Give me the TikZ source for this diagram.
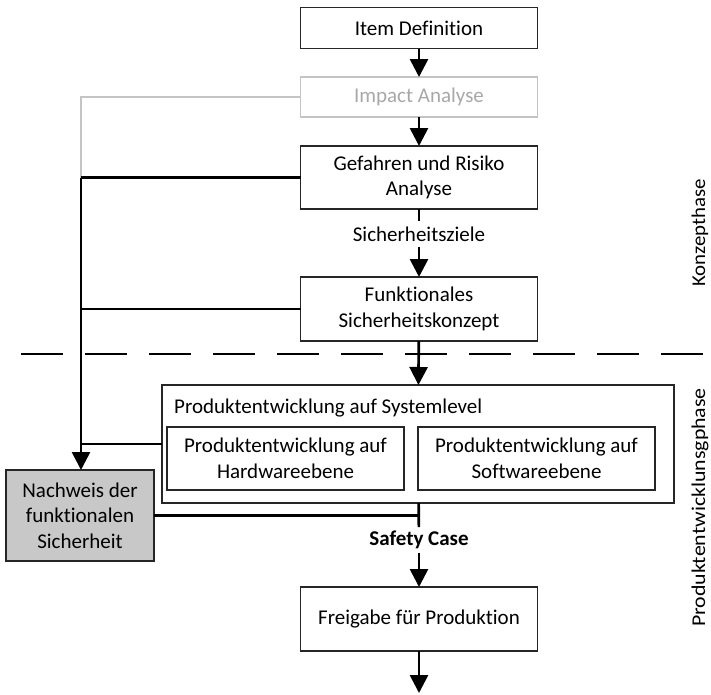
\documentclass[tikz,border=0pt]{standalone}
\usepackage{fontspec}
\setmainfont{Carlito}[Ligatures={NoCommon,NoRare,NoContextual}]
\usetikzlibrary{arrows.meta}
\definecolor{procfill}{HTML}{C8C8C8}
\definecolor{fadeline}{HTML}{C4C4C4}
\definecolor{fadetext}{HTML}{A8A8A8}
\newcommand{\boxfont}{\fontsize{21pt}{25.5pt}\selectfont}
\begin{document}
\begin{tikzpicture}[x=1pt,y=-1pt,
  box/.style={draw=black!85,line width=1.3pt,minimum width=237pt,align=center,
    inner sep=0pt,outer sep=0pt,font=\boxfont},
  conn/.style={line width=2.7pt},
  arr/.style={conn,-{Triangle[length=18pt,width=18pt]}},
  flow/.style={inner sep=0pt,outer sep=0pt,minimum height=26pt,font=\boxfont},
  phase/.style={inner sep=0pt,outer sep=0pt,rotate=90,anchor=base,font=\fontsize{19.5pt}{22pt}\selectfont}
]
\useasboundingbox (0,0) rectangle (711,694);

% main process column
\node[box,minimum height=41pt] (item) at (419,28) {Item Definition};
\node[box,draw=fadeline,text=fadetext,minimum height=40pt] (impact) at (419,97) {Impact Analyse};
\node[box,minimum height=63pt] (hara) at (419,177.5) {Gefahren und Risiko\\Analyse};
\node[flow] (goals) at (419,234) {Sicherheitsziele};
\node[box,minimum height=64pt] (fsc) at (419,309) {Funktionales\\Sicherheitskonzept};

% product development on system level with its two sub-levels
\node[box,minimum width=512pt,minimum height=118pt] (sys) at (418,444) {};
\node[anchor=west,inner sep=0pt,font=\boxfont] (syslabel) at (174,408) {Produktentwicklung auf Systemlevel};
\node[box,minimum height=63pt] (hw) at (285.5,458.5) {Produktentwicklung auf\\Hardwareebene};
\node[box,minimum height=63pt] (sw) at (536.5,458.5) {Produktentwicklung auf\\Softwareebene};

% verification of functional safety
\node[box,fill=procfill,minimum width=148pt,minimum height=91pt] (proof) at (80,515.5) {Nachweis der\\funktionalen\\Sicherheit};

\node[flow,font=\boxfont\bfseries] (case) at (419,540) {Safety Case};
\node[box,minimum height=64pt] (release) at (419,619) {Freigabe für Produktion};
\coordinate (out) at (419,693);

% phase separator and phase names
\coordinate (sepL) at (21,354);
\coordinate (sepR) at (703,354);
\draw[line width=2.3pt,dash pattern=on 42pt off 22pt] (sepL) -- (sepR);
\node[phase] (konzept) at (705,233) {\scalebox{1.07}[1]{Konzepthase}};
\node[phase] (entw) at (705,507.5) {\scalebox{1.12}[1]{Produktentwicklunsgphase}};

% flow connectors
\draw[arr] (item) -- (impact);
\draw[arr] (impact) -- (hara);
\draw[conn] (hara) -- (goals);
\draw[arr] (goals) -- (fsc);
\draw[arr] (fsc) -- (sys);
\draw[conn] (sys) -- (case);
\draw[arr] (case) -- (release);
\draw[arr] (release) -- (out);

% feedback lines into the safety verification
\coordinate (jh) at (81,177.5);
\coordinate (jf) at (81,309);
\coordinate (js) at (81,444);
\coordinate (jc) at (419,515.5);
\draw[conn,fadeline] (impact.west) -| (jh);
\draw[conn] (hara.west) -- (jh);
\draw[conn] (fsc.west) -- (jf);
\draw[conn] (sys.west) -- (js);
\draw[arr] (jh) -- (jh |- proof.north);
\draw[conn] (proof.east) -- (jc);
\end{tikzpicture}
\end{document}
